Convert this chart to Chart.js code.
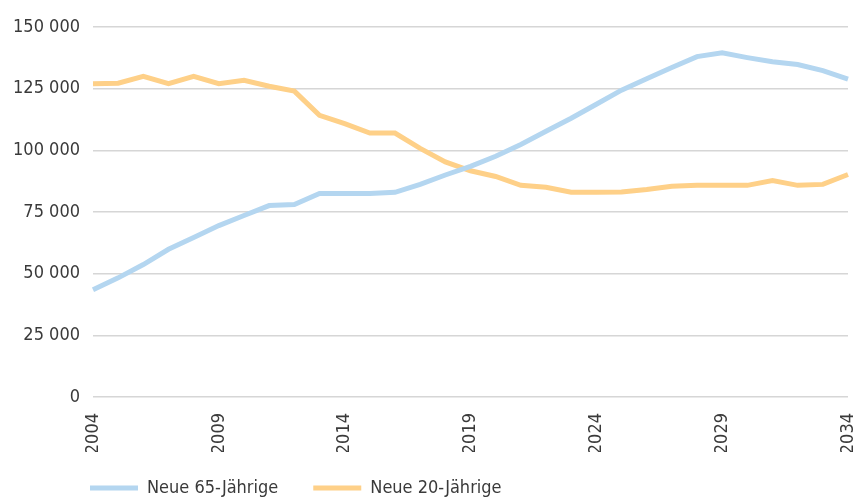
<!DOCTYPE html>
<html>
<head>
<meta charset="utf-8">
<script src="https://cdn.jsdelivr.net/npm/chart.js@4"></script>
<style>
  html, body { margin: 0; padding: 0; background: #fff; }
  #wrap { width: 862px; height: 502px; }
</style>
</head>
<body>
<div id="wrap"><canvas id="chart"></canvas></div>
<script>
const years = [];
for (let y = 2004; y <= 2034; y++) years.push(String(y));

const neue65 = [43500, 48300, 53700, 59900, 64700, 69500, 73600, 77600, 78000, 82500,
                82500, 82500, 83000, 86200, 90000, 93500, 97600, 102400, 107700, 113000,
                118700, 124400, 129000, 133600, 138000, 139500, 137600, 135900, 134800, 132300,
                128900];
const neue20 = [127000, 127200, 130000, 127000, 130000, 127000, 128400, 126000, 124000, 114200,
                110800, 107000, 107000, 100800, 95300, 91700, 89400, 85800, 85000, 83000,
                83000, 83100, 84100, 85400, 85800, 85800, 85800, 87800, 85800, 86200,
                90200];

const yTicks = [0, 25000, 50000, 75000, 100000, 125000, 150000];
const fontFamily = "'Liberation Sans Narrow', 'DejaVu Sans Condensed', 'Roboto', sans-serif";
const textColor = "#3a3a3a";

function fmt(v) {
    return String(v).replace(/\B(?=(\d{3})+(?!\d))/g, " ");
}

// move the legend under the plot, like the original
const legendShift = {
    id: 'legendShift',
    afterLayout(chart) {
        chart.legend.left += 55;
        chart.legend.right += 55;
        chart.legend.top -= 8;
        chart.legend.bottom -= 8;
    }
};

let chart = new Chart(document.getElementById("chart"), {
    type: 'line',
    data: {
        labels: years,
        datasets: [{
            label: 'Neue 65-Jährige',
            data: neue65,
            borderColor: '#b4d6f0',
            backgroundColor: '#b4d6f0',
            borderWidth: 5,
            pointRadius: 0,
            tension: 0
        }, {
            label: 'Neue 20-Jährige',
            data: neue20,
            borderColor: '#fed088',
            backgroundColor: '#fed088',
            borderWidth: 5,
            pointRadius: 0,
            tension: 0
        }]
    },
    plugins: [legendShift],
    options: {
        responsive: true,
        maintainAspectRatio: false,
        animation: false,
        layout: { padding: { left: 0, right: 14, top: 27, bottom: -13 } },
        plugins: {
            tooltip: { enabled: false },
            legend: {
                position: 'bottom',
                align: 'start',
                labels: {
                    usePointStyle: true,
                    pointStyle: 'line',
                    pointStyleWidth: 48,
                    padding: 35,
                    color: textColor,
                    font: { family: fontFamily, size: 18 }
                }
            }
        },
        scales: {
            x: {
                offset: false,
                grid: { display: false, drawTicks: false },
                border: { display: false },
                ticks: {
                    autoSkip: false,
                    minRotation: 90,
                    maxRotation: 90,
                    padding: 16,
                    color: textColor,
                    font: { family: fontFamily, size: 18 },
                    callback: function (val, i) {
                        return i % 5 === 0 ? years[i] : null;
                    }
                },
                afterFit: (scale) => {
                    scale.height = 55;
                    scale.paddingLeft = 0;
                    scale.paddingRight = 0;
                }
            },
            y: {
                min: 0,
                max: 150000,
                afterBuildTicks: (scale) => { scale.ticks = yTicks.map(v => ({ value: v })); },
                grid: { color: '#d6d6d6', lineWidth: 1.5, drawTicks: false },
                border: { display: false },
                ticks: {
                    padding: 13,
                    color: textColor,
                    font: { family: fontFamily, size: 18 },
                    callback: (v) => fmt(v)
                },
                afterFit: (scale) => { scale.width = 93; }
            }
        }
    }
});
</script>
</body>
</html>
